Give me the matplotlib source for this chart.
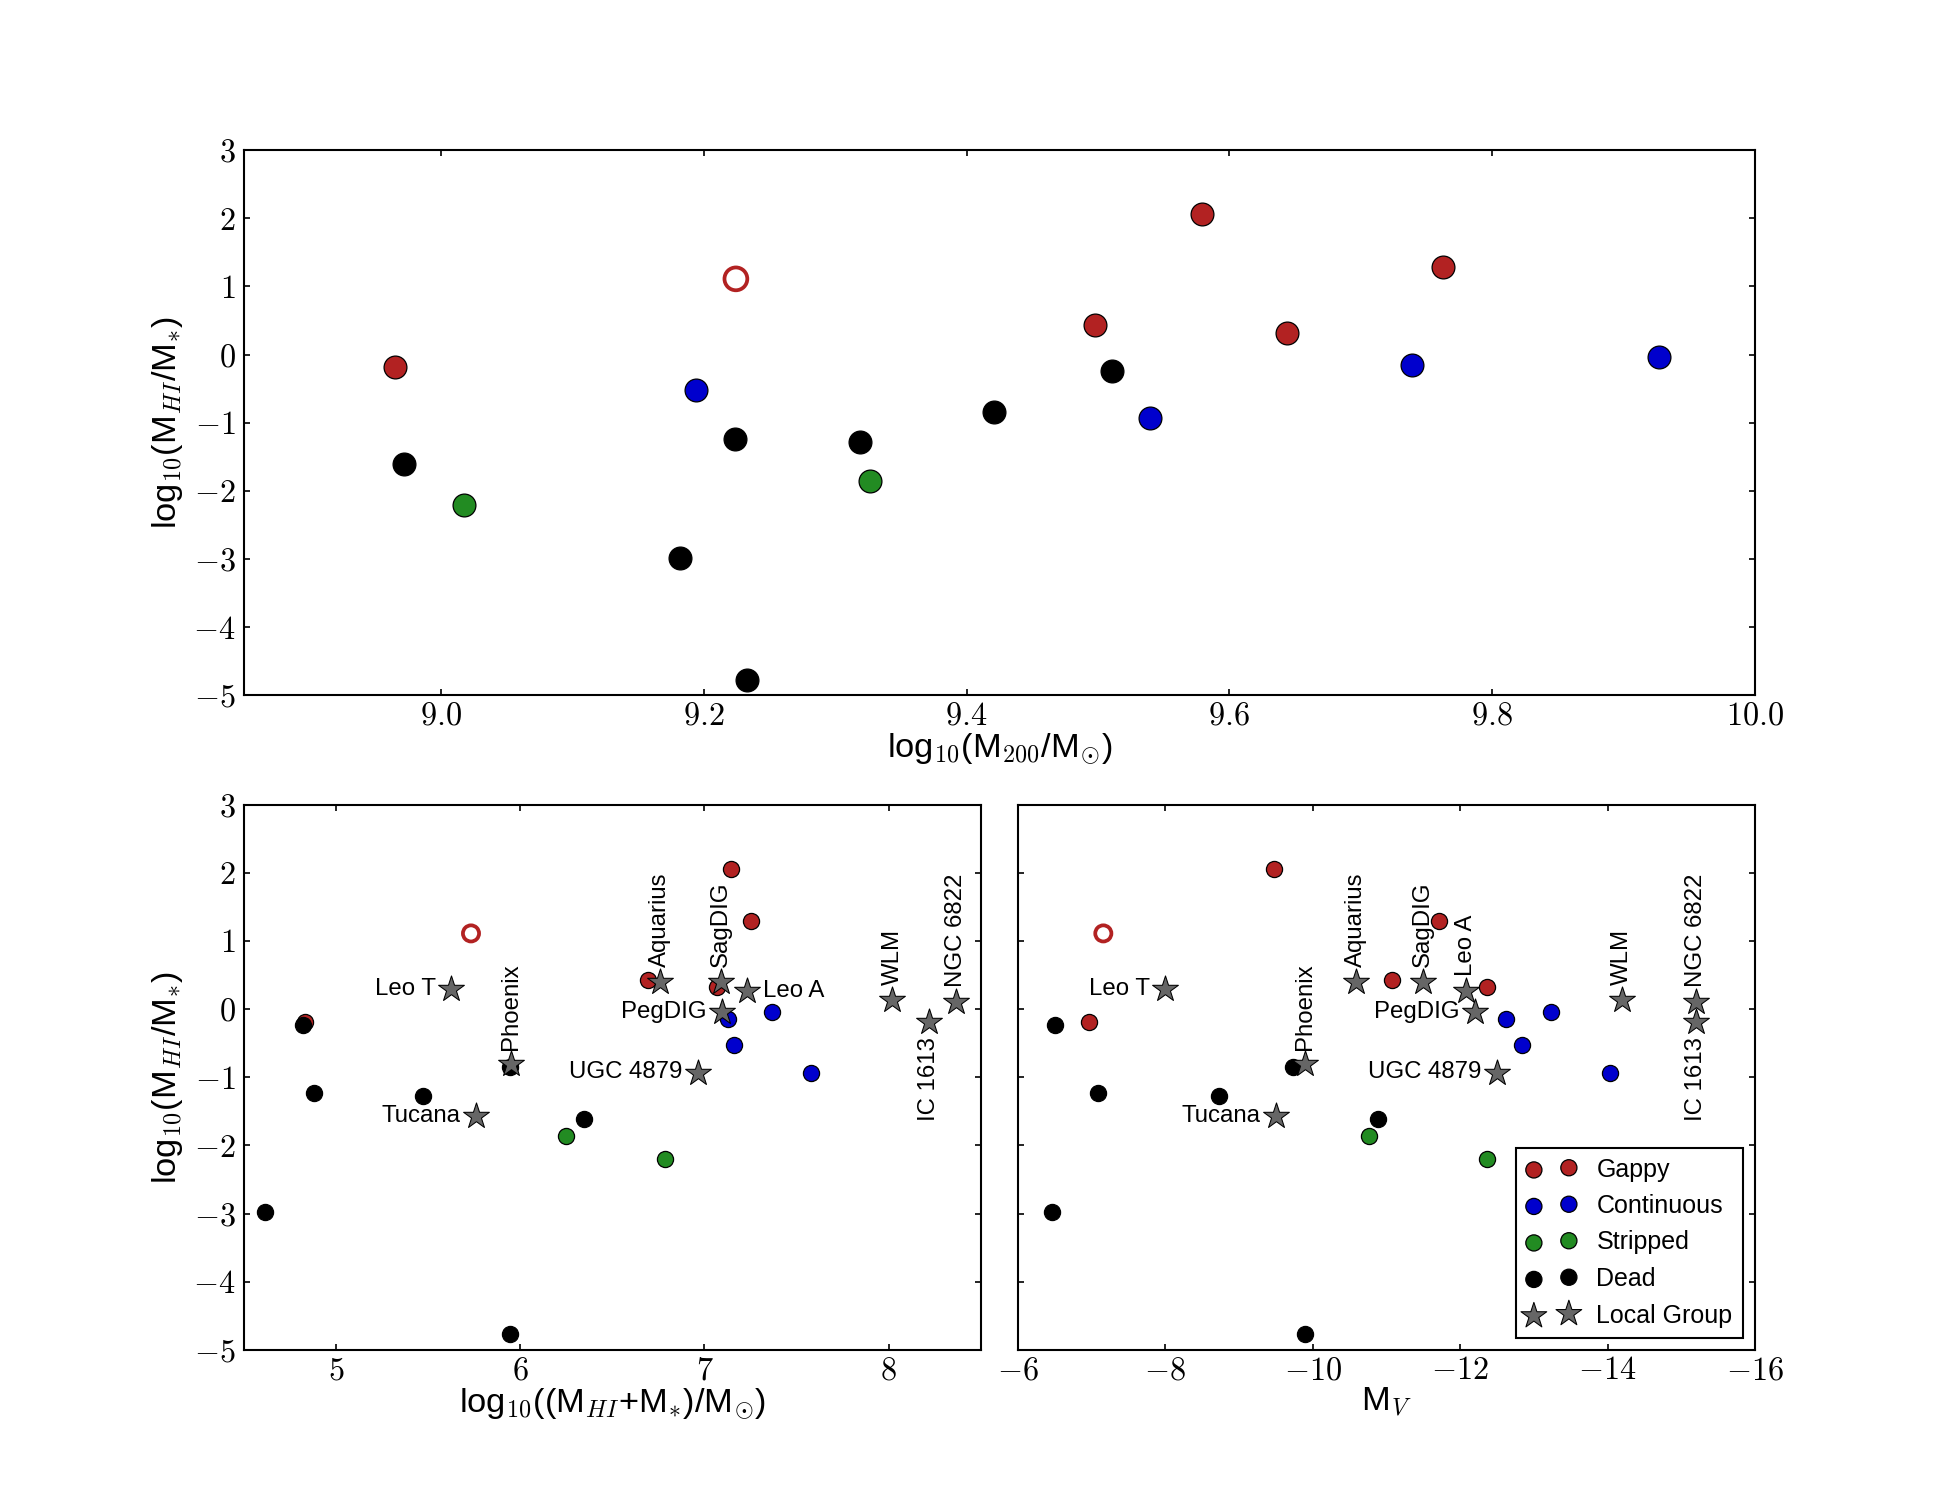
import numpy as np
import matplotlib
matplotlib.use("Agg")
import matplotlib.pyplot as plt
from matplotlib.ticker import FuncFormatter, FixedLocator

plt.rcParams['font.family'] = ['Liberation Sans', 'DejaVu Sans']
plt.rcParams['mathtext.fontset'] = 'cm'
plt.rcParams['xtick.direction'] = 'in'
plt.rcParams['ytick.direction'] = 'in'
plt.rcParams['xtick.top'] = True
plt.rcParams['ytick.right'] = True
plt.rcParams['xtick.major.size'] = 3
plt.rcParams['ytick.major.size'] = 3
plt.rcParams['xtick.major.pad'] = 3
plt.rcParams['ytick.major.pad'] = 4
plt.rcParams['axes.linewidth'] = 1.0

# ---------------- data ----------------
categories = ['Gappy', 'Continuous', 'Stripped', 'Dead']

gappy_m200 = [9.579, 9.7625, 9.498, 9.6435, 8.965]
gappy_ratio = [2.06, 1.29, 0.43, 0.32, -0.19]
gappy_mtot = [7.146, 7.252, 6.696, 7.070, 4.835]
gappy_mv = [-9.47, -11.71, -11.08, -12.36, -6.96]

hollow_m200 = [9.2245]
hollow_ratio = [1.11]
hollow_mtot = [5.733]
hollow_mv = [-7.16]

cont_m200 = [9.739, 9.927, 9.194, 9.5397]
cont_ratio = [-0.15, -0.04, -0.52, -0.93]
cont_mtot = [7.128, 7.367, 7.161, 7.579]
cont_mv = [-12.62, -13.23, -12.84, -14.03]

strip_m200 = [9.3265, 9.0175]
strip_ratio = [-1.86, -2.20]
strip_mtot = [6.248, 6.784]
strip_mv = [-10.76, -12.36]

dead_m200 = [9.511, 9.421, 9.2236, 9.319, 8.972, 9.1816, 9.2328]
dead_ratio = [-0.24, -0.85, -1.235, -1.28, -1.61, -2.98, -4.77]
dead_mtot = [4.823, 5.945, 4.882, 5.474, 6.348, 4.614, 5.945]
dead_mv = [-6.50, -9.73, -7.09, -8.73, -10.89, -6.47, -9.90]

lg_names = ['Leo T', 'Tucana', 'Phoenix', 'Aquarius', 'SagDIG', 'Leo A',
            'PegDIG', 'UGC 4879', 'WLM', 'IC 1613', 'NGC 6822']
lg_mtot = [5.627, 5.760, 5.951, 6.760, 7.087, 7.231, 7.093, 6.966, 8.020, 8.220, 8.365]
lg_ratio = [0.30, -1.57, -0.81, 0.40, 0.40, 0.27, -0.04, -0.93, 0.14, -0.19, 0.11]
lg_mv = [-8.00, -9.50, -9.90, -10.59, -11.49, -12.08, -12.20, -12.50, -14.20, -15.20, -15.20]

top_xticks = [9.0, 9.2, 9.4, 9.6, 9.8, 10.0]
mtot_xticks = [5, 6, 7, 8]
mv_xticks = [-6, -8, -10, -12, -14, -16]
y_ticks = [-5, -4, -3, -2, -1, 0, 1, 2, 3]

# label placement (style)
place_left = ['left', 'left', 'up', 'up', 'up', 'right', 'left', 'left', 'up', 'down', 'up']
place_right = ['left', 'left', 'up', 'up', 'up', 'up', 'left', 'left', 'up', 'down', 'up']

# ---------------- style ----------------
C_RED = '#b22222'
C_BLUE = '#0000cd'
C_GREEN = '#228b22'
C_BLACK = 'black'
C_STAR = '#666666'

fig = plt.figure(figsize=(13, 10), dpi=150)
fig.subplots_adjust(left=0.125, right=0.9, bottom=0.1, top=0.9, hspace=0.2, wspace=0.05)
gs = fig.add_gridspec(2, 2)
ax_top = fig.add_subplot(gs[0, :])
ax_bl = fig.add_subplot(gs[1, 0])
ax_br = fig.add_subplot(gs[1, 1])

def fmt1(v, pos):
    return r'$%.1f$' % v

def fmt0(v, pos):
    return r'$%d$' % int(round(v))

ylabel = r'log$_{10}$(M$_{HI}$/M$_{*}$)'
LABEL_FS = 16.5

def draw_points(ax, xs, s_circ):
    (xg, xh, xc, xs_, xd) = xs
    ax.scatter(xg, gappy_ratio, s=s_circ, c=C_RED, edgecolors='k', linewidths=0.6, zorder=3, label='Gappy')
    ax.scatter(xh, hollow_ratio, s=s_circ, facecolors='none', edgecolors=C_RED, linewidths=1.8, zorder=3)
    ax.scatter(xc, cont_ratio, s=s_circ, c=C_BLUE, edgecolors='k', linewidths=0.6, zorder=3, label='Continuous')
    ax.scatter(xs_, strip_ratio, s=s_circ, c=C_GREEN, edgecolors='k', linewidths=0.6, zorder=3, label='Stripped')
    ax.scatter(xd, dead_ratio, s=s_circ, c=C_BLACK, edgecolors='k', linewidths=0.6, zorder=3, label='Dead')

# top panel
draw_points(ax_top, (gappy_m200, hollow_m200, cont_m200, strip_m200, dead_m200), 120)
ax_top.set_xlim(8.85, 10.0)
ax_top.set_ylim(-5, 3)
ax_top.xaxis.set_major_locator(FixedLocator(top_xticks))
ax_top.xaxis.set_major_formatter(FuncFormatter(fmt1))
ax_top.yaxis.set_major_locator(FixedLocator(y_ticks))
ax_top.yaxis.set_major_formatter(FuncFormatter(fmt0))
ax_top.set_xlabel(r'log$_{10}$(M$_{200}$/M$_{\odot}$)', fontsize=LABEL_FS, labelpad=0)
ax_top.set_ylabel(ylabel, fontsize=LABEL_FS)

def draw_lg(ax, xs, places):
    ax.scatter(xs, lg_ratio, s=170, marker='*', c=C_STAR, edgecolors='k', linewidths=0.5, zorder=4, label='Local Group')
    for name, x, y, p in zip(lg_names, xs, lg_ratio, places):
        if p == 'left':
            ax.annotate(name, (x, y), xytext=(-7.5, 0), textcoords='offset points',
                        ha='right', va='center', fontsize=11.5, zorder=5)
        elif p == 'right':
            ax.annotate(name, (x, y), xytext=(7.5, 0), textcoords='offset points',
                        ha='left', va='center', fontsize=11.5, zorder=5)
        elif p == 'up':
            ax.annotate(name, (x, y), xytext=(0, 7), textcoords='offset points',
                        ha='center', va='bottom', rotation=90, fontsize=11.5, zorder=5)
        else:
            ax.annotate(name, (x, y), xytext=(0, -7), textcoords='offset points',
                        ha='center', va='top', rotation=90, fontsize=11.5, zorder=5)

# bottom left
draw_points(ax_bl, (gappy_mtot, hollow_mtot, cont_mtot, strip_mtot, dead_mtot), 60)
draw_lg(ax_bl, lg_mtot, place_left)
ax_bl.set_xlim(4.5, 8.5)
ax_bl.set_ylim(-5, 3)
ax_bl.xaxis.set_major_locator(FixedLocator(mtot_xticks))
ax_bl.xaxis.set_major_formatter(FuncFormatter(fmt0))
ax_bl.yaxis.set_major_locator(FixedLocator(y_ticks))
ax_bl.yaxis.set_major_formatter(FuncFormatter(fmt0))
ax_bl.set_xlabel(r'log$_{10}$((M$_{HI}$+M$_{*}$)/M$_{\odot}$)', fontsize=LABEL_FS, labelpad=0)
ax_bl.set_ylabel(ylabel, fontsize=LABEL_FS)

# bottom right
draw_points(ax_br, (gappy_mv, hollow_mv, cont_mv, strip_mv, dead_mv), 60)
draw_lg(ax_br, lg_mv, place_right)
ax_br.set_xlim(-6, -16)
ax_br.set_ylim(-5, 3)
ax_br.xaxis.set_major_locator(FixedLocator(mv_xticks))
ax_br.xaxis.set_major_formatter(FuncFormatter(fmt0))
ax_br.yaxis.set_major_locator(FixedLocator(y_ticks))
ax_br.set_yticklabels([])
ax_br.set_xlabel(r'M$_{V}$', fontsize=LABEL_FS, labelpad=0)

for ax in (ax_top, ax_bl, ax_br):
    ax.tick_params(labelsize=15.5)

leg = ax_br.legend(loc='lower right', scatterpoints=2, fontsize=12, fancybox=False,
                   framealpha=1, edgecolor='black', handlelength=2.0, labelspacing=0.5,
                   borderaxespad=0.5, borderpad=0.4, handletextpad=0.8)
leg.get_frame().set_linewidth(1.0)

fig.savefig('out.png', dpi=150, facecolor='white')
